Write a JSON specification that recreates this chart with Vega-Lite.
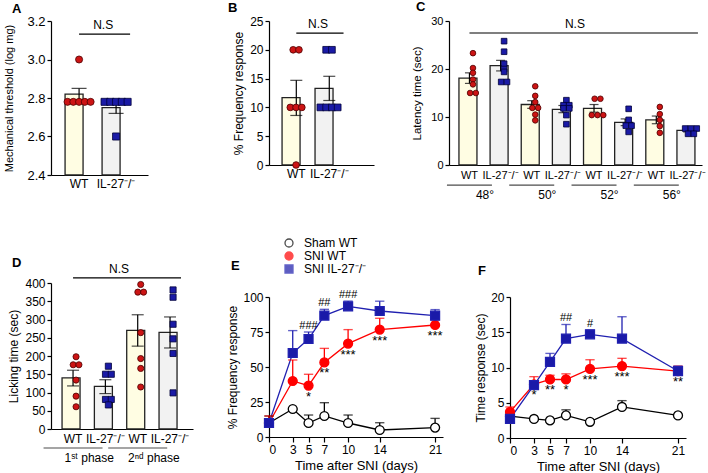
{
  "$schema": "https://vega.github.io/schema/vega-lite/v6.json",
  "padding": {"left": 3, "top": 1, "right": 4, "bottom": 4},
  "config": {
    "font": "Liberation Sans",
    "view": {"stroke": null},
    "axis": {"domainColor": "#000", "domainWidth": 1.2, "tickColor": "#000", "tickWidth": 1.2, "tickSize": 4, "labelColor": "#000", "titleColor": "#000", "labelFont": "Liberation Sans", "titleFont": "Liberation Sans", "titleFontWeight": "normal", "grid": false, "labelPadding": 2, "labelOverlap": false},
    "title": {"anchor": "start", "frame": "group", "fontSize": 13, "fontWeight": "bold", "font": "Liberation Sans", "color": "#000", "offset": 4},
    "text": {"font": "Liberation Sans", "color": "#000"},
    "legend": {"labelFont": "Liberation Sans", "labelFontSize": 12, "labelColor": "#000"}
  },
  "datasets": {
    "aBar": [{"k": "WT", "g": "WT", "m": 2.82, "lo": 2.79, "hi": 2.85}, {"k": "IL", "g": "IL", "m": 2.75, "lo": 2.72, "hi": 2.78}],
    "aPts": [{"k": "WT", "g": "WT", "v": 3.0}, {"k": "WT", "g": "WT", "v": 2.78}, {"k": "WT", "g": "WT", "v": 2.78}, {"k": "WT", "g": "WT", "v": 2.78}, {"k": "WT", "g": "WT", "v": 2.78}, {"k": "WT", "g": "WT", "v": 2.78},
             {"k": "IL", "g": "IL", "v": 2.78}, {"k": "IL", "g": "IL", "v": 2.78}, {"k": "IL", "g": "IL", "v": 2.78}, {"k": "IL", "g": "IL", "v": 2.78}, {"k": "IL", "g": "IL", "v": 2.78}, {"k": "IL", "g": "IL", "v": 2.6}],
    "bBar": [{"k": "WT", "g": "WT", "m": 11.7, "lo": 8.6, "hi": 14.7}, {"k": "IL", "g": "IL", "m": 13.3, "lo": 11.2, "hi": 15.4}],
    "bPts": [{"k": "WT", "g": "WT", "v": 20}, {"k": "WT", "g": "WT", "v": 20}, {"k": "WT", "g": "WT", "v": 10}, {"k": "WT", "g": "WT", "v": 10}, {"k": "WT", "g": "WT", "v": 10}, {"k": "WT", "g": "WT", "v": 0},
             {"k": "IL", "g": "IL", "v": 20}, {"k": "IL", "g": "IL", "v": 20}, {"k": "IL", "g": "IL", "v": 10}, {"k": "IL", "g": "IL", "v": 10}, {"k": "IL", "g": "IL", "v": 10}, {"k": "IL", "g": "IL", "v": 10}],
    "cBar": [
      {"k": "48|WT", "g": "WT", "m": 18.1, "lo": 17.0, "hi": 19.2},
      {"k": "48|IL", "g": "IL", "m": 20.7, "lo": 19.6, "hi": 21.8},
      {"k": "50|WT", "g": "WT", "m": 12.6, "lo": 11.8, "hi": 13.4},
      {"k": "50|IL", "g": "IL", "m": 11.6, "lo": 10.9, "hi": 12.4},
      {"k": "52|WT", "g": "WT", "m": 11.8, "lo": 11.0, "hi": 12.6},
      {"k": "52|IL", "g": "IL", "m": 8.9, "lo": 8.2, "hi": 9.6},
      {"k": "56|WT", "g": "WT", "m": 9.4, "lo": 8.6, "hi": 10.2},
      {"k": "56|IL", "g": "IL", "m": 7.2, "lo": 6.9, "hi": 7.5}
    ],
    "cPts": [
      {"k": "48|WT", "g": "WT", "v": 23.3}, {"k": "48|WT", "g": "WT", "v": 20.2}, {"k": "48|WT", "g": "WT", "v": 19.2}, {"k": "48|WT", "g": "WT", "v": 17.8}, {"k": "48|WT", "g": "WT", "v": 16.8}, {"k": "48|WT", "g": "WT", "v": 15.0}, {"k": "48|WT", "g": "WT", "v": 15.0},
      {"k": "48|IL", "g": "IL", "v": 25.8}, {"k": "48|IL", "g": "IL", "v": 23.6}, {"k": "48|IL", "g": "IL", "v": 21.1}, {"k": "48|IL", "g": "IL", "v": 20.0}, {"k": "48|IL", "g": "IL", "v": 19.4}, {"k": "48|IL", "g": "IL", "v": 17.3}, {"k": "48|IL", "g": "IL", "v": 17.3},
      {"k": "50|WT", "g": "WT", "v": 16.4}, {"k": "50|WT", "g": "WT", "v": 14.4}, {"k": "50|WT", "g": "WT", "v": 13.1}, {"k": "50|WT", "g": "WT", "v": 11.9}, {"k": "50|WT", "g": "WT", "v": 11.9}, {"k": "50|WT", "g": "WT", "v": 10.5}, {"k": "50|WT", "g": "WT", "v": 9.3},
      {"k": "50|IL", "g": "IL", "v": 13.5}, {"k": "50|IL", "g": "IL", "v": 12.45}, {"k": "50|IL", "g": "IL", "v": 12.45}, {"k": "50|IL", "g": "IL", "v": 11.8}, {"k": "50|IL", "g": "IL", "v": 11.8}, {"k": "50|IL", "g": "IL", "v": 10.4}, {"k": "50|IL", "g": "IL", "v": 8.5},
      {"k": "52|WT", "g": "WT", "v": 13.8}, {"k": "52|WT", "g": "WT", "v": 13.8}, {"k": "52|WT", "g": "WT", "v": 10.4}, {"k": "52|WT", "g": "WT", "v": 10.4}, {"k": "52|WT", "g": "WT", "v": 10.4},
      {"k": "52|IL", "g": "IL", "v": 11.7}, {"k": "52|IL", "g": "IL", "v": 9.4}, {"k": "52|IL", "g": "IL", "v": 8.2}, {"k": "52|IL", "g": "IL", "v": 8.2}, {"k": "52|IL", "g": "IL", "v": 6.9},
      {"k": "56|WT", "g": "WT", "v": 12.1}, {"k": "56|WT", "g": "WT", "v": 10.6}, {"k": "56|WT", "g": "WT", "v": 9.4}, {"k": "56|WT", "g": "WT", "v": 8.1}, {"k": "56|WT", "g": "WT", "v": 6.7},
      {"k": "56|IL", "g": "IL", "v": 7.6}, {"k": "56|IL", "g": "IL", "v": 7.6}, {"k": "56|IL", "g": "IL", "v": 7.6}, {"k": "56|IL", "g": "IL", "v": 6.5}, {"k": "56|IL", "g": "IL", "v": 6.5}
    ],
    "cGrp": [{"k": "48|WT", "t": "48°"}, {"k": "50|WT", "t": "50°"}, {"k": "52|WT", "t": "52°"}, {"k": "56|WT", "t": "56°"}],
    "dBar": [
      {"k": "1|WT", "g": "WT", "m": 140, "lo": 118, "hi": 161},
      {"k": "1|IL", "g": "IL", "m": 117, "lo": 97, "hi": 135},
      {"k": "2|WT", "g": "WT", "m": 270, "lo": 227, "hi": 313},
      {"k": "2|IL", "g": "IL", "m": 265, "lo": 222, "hi": 307}
    ],
    "dPts": [
      {"k": "1|WT", "g": "WT", "v": 198}, {"k": "1|WT", "g": "WT", "v": 176}, {"k": "1|WT", "g": "WT", "v": 176}, {"k": "1|WT", "g": "WT", "v": 134}, {"k": "1|WT", "g": "WT", "v": 90}, {"k": "1|WT", "g": "WT", "v": 61},
      {"k": "1|IL", "g": "IL", "v": 172}, {"k": "1|IL", "g": "IL", "v": 150}, {"k": "1|IL", "g": "IL", "v": 150}, {"k": "1|IL", "g": "IL", "v": 81}, {"k": "1|IL", "g": "IL", "v": 81}, {"k": "1|IL", "g": "IL", "v": 66},
      {"k": "2|WT", "g": "WT", "v": 396}, {"k": "2|WT", "g": "WT", "v": 375}, {"k": "2|WT", "g": "WT", "v": 375}, {"k": "2|WT", "g": "WT", "v": 264}, {"k": "2|WT", "g": "WT", "v": 193}, {"k": "2|WT", "g": "WT", "v": 166}, {"k": "2|WT", "g": "WT", "v": 115},
      {"k": "2|IL", "g": "IL", "v": 381}, {"k": "2|IL", "g": "IL", "v": 361}, {"k": "2|IL", "g": "IL", "v": 287}, {"k": "2|IL", "g": "IL", "v": 247}, {"k": "2|IL", "g": "IL", "v": 207}, {"k": "2|IL", "g": "IL", "v": 99}
    ],
    "dGrp": [{"k": "1|WT", "t": "1ˢᵗ phase"}, {"k": "2|WT", "t": "2ⁿᵈ phase"}],
    "eData": [
      {"s": "Sham WT", "day": 0, "m": 10, "hi": 15}, {"s": "Sham WT", "day": 3, "m": 20, "hi": 20}, {"s": "Sham WT", "day": 5, "m": 10, "hi": 15.7}, {"s": "Sham WT", "day": 7, "m": 15, "hi": 24.5}, {"s": "Sham WT", "day": 10, "m": 10, "hi": 15.7}, {"s": "Sham WT", "day": 14, "m": 5, "hi": 10.2}, {"s": "Sham WT", "day": 21, "m": 6.7, "hi": 13.3},
      {"s": "SNI WT", "day": 0, "m": 10, "hi": 15}, {"s": "SNI WT", "day": 3, "m": 40, "hi": 55}, {"s": "SNI WT", "day": 5, "m": 36.7, "hi": 44.8, "ann": "*"}, {"s": "SNI WT", "day": 7, "m": 53.3, "hi": 63.3, "ann": "**"}, {"s": "SNI WT", "day": 10, "m": 66.7, "hi": 76.7, "ann": "***"}, {"s": "SNI WT", "day": 14, "m": 76.7, "hi": 84.8, "ann": "***"}, {"s": "SNI WT", "day": 21, "m": 80, "hi": 83.6, "ann": "***"},
      {"s": "SNI IL-27⁻/⁻", "day": 0, "m": 10, "hi": 13}, {"s": "SNI IL-27⁻/⁻", "day": 3, "m": 60, "hi": 76}, {"s": "SNI IL-27⁻/⁻", "day": 5, "m": 70, "hi": 75, "ann": "###"}, {"s": "SNI IL-27⁻/⁻", "day": 7, "m": 86.7, "hi": 91.2, "ann": "##"}, {"s": "SNI IL-27⁻/⁻", "day": 10, "m": 93.3, "hi": 97.1, "ann": "###"}, {"s": "SNI IL-27⁻/⁻", "day": 14, "m": 90, "hi": 97}, {"s": "SNI IL-27⁻/⁻", "day": 21, "m": 86.7, "hi": 91}
    ],
    "fData": [
      {"s": "Sham WT", "day": 0, "m": 3.1, "hi": 3.1}, {"s": "Sham WT", "day": 3, "m": 2.7, "hi": 2.7}, {"s": "Sham WT", "day": 5, "m": 2.5, "hi": 2.5}, {"s": "Sham WT", "day": 7, "m": 3.2, "hi": 4.0}, {"s": "Sham WT", "day": 10, "m": 2.3, "hi": 2.3}, {"s": "Sham WT", "day": 14, "m": 4.4, "hi": 5.3}, {"s": "Sham WT", "day": 21, "m": 3.2, "hi": 3.2},
      {"s": "SNI WT", "day": 0, "m": 3.7, "hi": 4.4}, {"s": "SNI WT", "day": 3, "m": 7.6, "hi": 8.7, "ann": "*"}, {"s": "SNI WT", "day": 5, "m": 8.3, "hi": 8.9, "ann": "**"}, {"s": "SNI WT", "day": 7, "m": 8.3, "hi": 9.1, "ann": "*"}, {"s": "SNI WT", "day": 10, "m": 9.8, "hi": 11.1, "ann": "***"}, {"s": "SNI WT", "day": 14, "m": 10.2, "hi": 11.3, "ann": "***"}, {"s": "SNI WT", "day": 21, "m": 9.5, "hi": 10.2, "ann": "**"},
      {"s": "SNI IL-27⁻/⁻", "day": 0, "m": 2.7, "hi": 3.2}, {"s": "SNI IL-27⁻/⁻", "day": 3, "m": 7.5, "hi": 8.0}, {"s": "SNI IL-27⁻/⁻", "day": 5, "m": 10.8, "hi": 12.0}, {"s": "SNI IL-27⁻/⁻", "day": 7, "m": 14.1, "hi": 16.1, "ann": "##"}, {"s": "SNI IL-27⁻/⁻", "day": 10, "m": 14.7, "hi": 15.3, "ann": "#"}, {"s": "SNI IL-27⁻/⁻", "day": 14, "m": 14.1, "hi": 17.2}, {"s": "SNI IL-27⁻/⁻", "day": 21, "m": 9.5, "hi": 10.2}
    ]
  },
  "hconcat": [
    {
      "vconcat": [
        {
          "width": 97, "height": 154,
          "title": {"text": "A", "dx": -39, "offset": -1},
          "layer": [
            {"data": {"name": "aBar"}, "mark": {"type": "bar", "stroke": "#222", "strokeWidth": 1.3},
             "encoding": {
               "x": {"field": "k", "type": "nominal", "scale": {"domain": ["WT", "IL"], "paddingInner": 0.243, "paddingOuter": 0.432, "align": 0.44},
                     "axis": {"title": null, "ticks": false, "labelAngle": 0, "labelPadding": 3, "labelFontSize": 12, "labelExpr": "datum.value === 'WT' ? 'WT' : 'IL-27⁻/⁻'"}},
               "y": {"field": "m", "type": "quantitative", "scale": {"domain": [2.4, 3.2], "nice": false, "zero": false},
                     "axis": {"values": [2.4, 2.6, 2.8, 3.0, 3.2], "tickCount": 30, "format": ".1f", "title": "Mechanical threshold (log mg)", "labelFontSize": 13, "titleFontSize": 11, "titlePadding": 12}},
               "y2": {"datum": 2.4},
               "fill": {"condition": {"test": "datum.g === 'WT'", "value": "#fffde3"}, "value": "#f2f2f2"}
             }},
            {"data": {"name": "aBar"}, "mark": {"type": "rule", "color": "#000", "strokeWidth": 1.2},
             "encoding": {"x": {"field": "k", "type": "nominal"}, "y": {"field": "lo", "type": "quantitative"}, "y2": {"field": "hi"}}},
            {"data": {"name": "aBar"}, "mark": {"type": "tick", "color": "#000", "thickness": 1.2, "size": 15},
             "encoding": {"x": {"field": "k", "type": "nominal"}, "y": {"field": "hi", "type": "quantitative"}}},
            {"data": {"name": "aBar"}, "mark": {"type": "tick", "color": "#000", "thickness": 1.2, "size": 15},
             "encoding": {"x": {"field": "k", "type": "nominal"}, "y": {"field": "lo", "type": "quantitative"}}},
            {"data": {"name": "aPts"},
             "transform": [{"joinaggregate": [{"op": "count", "as": "n"}], "groupby": ["k", "v"]}, {"window": [{"op": "row_number", "as": "r"}], "groupby": ["k", "v"]}, {"calculate": "datum.r - (datum.n + 1) / 2", "as": "off"}],
             "mark": {"type": "point", "filled": true, "opacity": 1, "size": 50, "strokeWidth": 0.8},
             "encoding": {
               "x": {"field": "k", "type": "nominal"},
               "xOffset": {"field": "off", "type": "quantitative", "scale": {"domain": [-2.43, 2.43]}},
               "y": {"field": "v", "type": "quantitative"},
               "shape": {"condition": {"test": "datum.g === 'WT'", "value": "circle"}, "value": "square"},
               "fill": {"condition": {"test": "datum.g === 'WT'", "value": "#cc1414"}, "value": "#1a1aa6"},
               "stroke": {"condition": {"test": "datum.g === 'WT'", "value": "#4d0000"}, "value": "#00003a"}
             }},
            {"data": {"values": [{}]}, "mark": {"type": "rule", "color": "#000", "strokeWidth": 1.2},
             "encoding": {"x": {"datum": "WT", "type": "nominal"}, "x2": {"datum": "IL", "bandPosition": 1}, "y": {"datum": 3.132, "type": "quantitative"}}},
            {"data": {"values": [{}]}, "mark": {"type": "text", "baseline": "bottom", "dy": -2, "fontSize": 12},
             "encoding": {"x": {"datum": "WT", "type": "nominal", "bandPosition": 1.36}, "y": {"datum": 3.132, "type": "quantitative"}, "text": {"value": "N.S"}}}
          ]
        },
        {
          "width": 142, "height": 146,
          "title": {"text": "D", "dx": -39, "offset": -7},
          "layer": [
            {"data": {"name": "dBar"}, "mark": {"type": "bar", "stroke": "#222", "strokeWidth": 1.3},
             "encoding": {
               "x": {"field": "k", "type": "nominal", "scale": {"domain": ["1|WT", "1|IL", "2|WT", "2|IL"], "paddingInner": 0.32, "paddingOuter": 0.356, "align": 0.48},
                     "axis": {"title": null, "ticks": false, "labelAngle": 0, "labelPadding": 4, "labelFontSize": 12, "labelExpr": "indexof(datum.value, 'WT') >= 0 ? 'WT' : 'IL-27⁻/⁻'"}},
               "y": {"field": "m", "type": "quantitative", "scale": {"domain": [0, 400], "nice": false},
                     "axis": {"values": [0, 50, 100, 150, 200, 250, 300, 350, 400], "tickCount": 30, "format": "d", "title": "Licking time (sec)", "labelFontSize": 12, "titleFontSize": 12, "titlePadding": 4}},
               "y2": {"datum": 0},
               "fill": {"condition": {"test": "datum.g === 'WT'", "value": "#fffde3"}, "value": "#f2f2f2"}
             }},
            {"data": {"name": "dBar"}, "mark": {"type": "rule", "color": "#000", "strokeWidth": 1.2},
             "encoding": {"x": {"field": "k", "type": "nominal"}, "y": {"field": "lo", "type": "quantitative"}, "y2": {"field": "hi"}}},
            {"data": {"name": "dBar"}, "mark": {"type": "tick", "color": "#000", "thickness": 1.2, "size": 12},
             "encoding": {"x": {"field": "k", "type": "nominal"}, "y": {"field": "hi", "type": "quantitative"}}},
            {"data": {"name": "dBar"}, "mark": {"type": "tick", "color": "#000", "thickness": 1.2, "size": 12},
             "encoding": {"x": {"field": "k", "type": "nominal"}, "y": {"field": "lo", "type": "quantitative"}}},
            {"data": {"name": "dPts"},
             "transform": [{"joinaggregate": [{"op": "count", "as": "n"}], "groupby": ["k", "v"]}, {"window": [{"op": "row_number", "as": "r"}], "groupby": ["k", "v"]}, {"calculate": "datum.r - (datum.n + 1) / 2", "as": "off"}],
             "mark": {"type": "point", "filled": true, "opacity": 1, "size": 38, "strokeWidth": 0.8},
             "encoding": {
               "x": {"field": "k", "type": "nominal"},
               "xOffset": {"field": "off", "type": "quantitative", "scale": {"domain": [-1.57, 1.57]}},
               "y": {"field": "v", "type": "quantitative"},
               "shape": {"condition": {"test": "datum.g === 'WT'", "value": "circle"}, "value": "square"},
               "fill": {"condition": {"test": "datum.g === 'WT'", "value": "#cc1414"}, "value": "#1a1aa6"},
               "stroke": {"condition": {"test": "datum.g === 'WT'", "value": "#4d0000"}, "value": "#00003a"}
             }},
            {"data": {"values": [{}]}, "mark": {"type": "rule", "color": "#000", "strokeWidth": 1.2},
             "encoding": {"x": {"datum": "1|WT", "type": "nominal"}, "x2": {"datum": "2|IL", "bandPosition": 1}, "y": {"datum": 414, "type": "quantitative"}}},
            {"data": {"values": [{}]}, "mark": {"type": "text", "baseline": "bottom", "dy": -2, "fontSize": 12},
             "encoding": {"x": {"datum": "1|IL", "type": "nominal", "bandPosition": 1.12}, "y": {"datum": 414, "type": "quantitative"}, "text": {"value": "N.S"}}},
            {"data": {"name": "dGrp"}, "mark": {"type": "tick", "color": "#000", "thickness": 1.2, "size": 59},
             "encoding": {"x": {"field": "k", "type": "nominal", "bandPosition": 1.235}, "y": {"datum": -52, "type": "quantitative"}}},
            {"data": {"name": "dGrp"}, "mark": {"type": "text", "baseline": "middle", "fontSize": 12},
             "encoding": {"x": {"field": "k", "type": "nominal", "bandPosition": 1.235}, "y": {"datum": -79, "type": "quantitative"}, "text": {"field": "t"}}}
          ]
        }
      ],
      "spacing": 67
    },
    {
      "vconcat": [
        {
          "hconcat": [
            {
              "width": 105, "height": 144,
              "title": {"text": "B", "dx": -41, "offset": 0.5},
              "layer": [
                {"data": {"name": "bBar"}, "mark": {"type": "bar", "stroke": "#222", "strokeWidth": 1.3},
                 "encoding": {
                   "x": {"field": "k", "type": "nominal", "scale": {"domain": ["WT", "IL"], "paddingInner": 0.136, "paddingOuter": 0.66, "align": 0.3},
                         "axis": {"title": null, "ticks": false, "labelAngle": 0, "labelPadding": 3, "labelFontSize": 12, "labelExpr": "datum.value === 'WT' ? 'WT' : 'IL-27⁻/⁻'"}},
                   "y": {"field": "m", "type": "quantitative", "scale": {"domain": [0, 25], "nice": false},
                         "axis": {"values": [0, 5, 10, 15, 20, 25], "tickCount": 30, "format": "d", "title": "% Frequency response", "labelFontSize": 12, "titleFontSize": 12, "titlePadding": 4}},
                   "y2": {"datum": 0},
                   "fill": {"condition": {"test": "datum.g === 'WT'", "value": "#fffde3"}, "value": "#f2f2f2"}
                 }},
                {"data": {"name": "bBar"}, "mark": {"type": "rule", "color": "#000", "strokeWidth": 1.2},
                 "encoding": {"x": {"field": "k", "type": "nominal"}, "y": {"field": "lo", "type": "quantitative"}, "y2": {"field": "hi"}}},
                {"data": {"name": "bBar"}, "mark": {"type": "tick", "color": "#000", "thickness": 1.2, "size": 12},
                 "encoding": {"x": {"field": "k", "type": "nominal"}, "y": {"field": "hi", "type": "quantitative"}}},
                {"data": {"name": "bBar"}, "mark": {"type": "tick", "color": "#000", "thickness": 1.2, "size": 12},
                 "encoding": {"x": {"field": "k", "type": "nominal"}, "y": {"field": "lo", "type": "quantitative"}}},
                {"data": {"name": "bPts"},
                 "transform": [{"joinaggregate": [{"op": "count", "as": "n"}], "groupby": ["k", "v"]}, {"window": [{"op": "row_number", "as": "r"}], "groupby": ["k", "v"]}, {"calculate": "datum.r - (datum.n + 1) / 2", "as": "off"}],
                 "mark": {"type": "point", "filled": true, "opacity": 1, "size": 45, "strokeWidth": 0.8},
                 "encoding": {
                   "x": {"field": "k", "type": "nominal"},
                   "xOffset": {"field": "off", "type": "quantitative", "scale": {"domain": [-2.19, 2.19]}},
                   "y": {"field": "v", "type": "quantitative"},
                   "shape": {"condition": {"test": "datum.g === 'WT'", "value": "circle"}, "value": "square"},
                   "fill": {"condition": {"test": "datum.g === 'WT'", "value": "#cc1414"}, "value": "#1a1aa6"},
                   "stroke": {"condition": {"test": "datum.g === 'WT'", "value": "#4d0000"}, "value": "#00003a"}
                 }},
                {"data": {"values": [{}]}, "mark": {"type": "rule", "color": "#000", "strokeWidth": 1.2},
                 "encoding": {"x": {"datum": "WT", "type": "nominal"}, "x2": {"datum": "IL", "bandPosition": 1}, "y": {"datum": 22.9, "type": "quantitative"}}},
                {"data": {"values": [{}]}, "mark": {"type": "text", "baseline": "bottom", "dy": -2, "fontSize": 12},
                 "encoding": {"x": {"datum": "WT", "type": "nominal", "bandPosition": 1.26}, "y": {"datum": 22.9, "type": "quantitative"}, "text": {"value": "N.S"}}}
              ]
            },
            {
              "width": 253, "height": 144,
              "title": {"text": "C", "dx": -33, "offset": 1},
              "layer": [
                {"data": {"name": "cBar"}, "mark": {"type": "bar", "stroke": "#222", "strokeWidth": 1.3},
                 "encoding": {
                   "x": {"field": "k", "type": "nominal", "scale": {"domain": ["48|WT", "48|IL", "50|WT", "50|IL", "52|WT", "52|IL", "56|WT", "56|IL"], "paddingInner": 0.326, "paddingOuter": 0.225, "align": 0.71},
                         "axis": {"title": null, "ticks": false, "labelAngle": 0, "labelPadding": 4, "labelFontSize": 11, "labelExpr": "indexof(datum.value, 'WT') >= 0 ? 'WT' : 'IL-27⁻/⁻'"}},
                   "y": {"field": "m", "type": "quantitative", "scale": {"domain": [0, 30], "nice": false},
                         "axis": {"values": [0, 10, 20, 30], "tickCount": 30, "format": "d", "title": "Latency time (sec)", "labelFontSize": 11, "titleFontSize": 11.5, "titlePadding": 8}},
                   "y2": {"datum": 0},
                   "fill": {"condition": {"test": "datum.g === 'WT'", "value": "#fffde3"}, "value": "#f2f2f2"}
                 }},
                {"data": {"name": "cBar"}, "mark": {"type": "rule", "color": "#000", "strokeWidth": 1.2},
                 "encoding": {"x": {"field": "k", "type": "nominal"}, "y": {"field": "lo", "type": "quantitative"}, "y2": {"field": "hi"}}},
                {"data": {"name": "cBar"}, "mark": {"type": "tick", "color": "#000", "thickness": 1.2, "size": 9},
                 "encoding": {"x": {"field": "k", "type": "nominal"}, "y": {"field": "hi", "type": "quantitative"}}},
                {"data": {"name": "cBar"}, "mark": {"type": "tick", "color": "#000", "thickness": 1.2, "size": 9},
                 "encoding": {"x": {"field": "k", "type": "nominal"}, "y": {"field": "lo", "type": "quantitative"}}},
                {"data": {"name": "cPts"},
                 "transform": [{"joinaggregate": [{"op": "count", "as": "n"}], "groupby": ["k", "v"]}, {"window": [{"op": "row_number", "as": "r"}], "groupby": ["k", "v"]}, {"calculate": "datum.r - (datum.n + 1) / 2", "as": "off"}],
                 "mark": {"type": "point", "filled": true, "opacity": 1, "size": 32, "strokeWidth": 0.8},
                 "encoding": {
                   "x": {"field": "k", "type": "nominal"},
                   "xOffset": {"field": "off", "type": "quantitative", "scale": {"domain": [-1.5, 1.5]}},
                   "y": {"field": "v", "type": "quantitative"},
                   "shape": {"condition": {"test": "datum.g === 'WT'", "value": "circle"}, "value": "square"},
                   "fill": {"condition": {"test": "datum.g === 'WT'", "value": "#cc1414"}, "value": "#1a1aa6"},
                   "stroke": {"condition": {"test": "datum.g === 'WT'", "value": "#4d0000"}, "value": "#00003a"}
                 }},
                {"data": {"values": [{}]}, "mark": {"type": "rule", "color": "#000", "strokeWidth": 1.2},
                 "encoding": {"x": {"datum": "48|WT", "type": "nominal"}, "x2": {"datum": "56|IL", "bandPosition": 1}, "y": {"datum": 27.5, "type": "quantitative"}}},
                {"data": {"values": [{}]}, "mark": {"type": "text", "baseline": "bottom", "dy": -2, "fontSize": 12},
                 "encoding": {"x": {"datum": "52|WT", "type": "nominal", "bandPosition": -0.41}, "y": {"datum": 27.5, "type": "quantitative"}, "text": {"value": "N.S"}}},
                {"data": {"name": "cGrp"}, "mark": {"type": "tick", "color": "#000", "thickness": 1.2, "size": 45},
                 "encoding": {"x": {"field": "k", "type": "nominal", "bandPosition": 1.241}, "y": {"datum": -4.2, "type": "quantitative"}}},
                {"data": {"name": "cGrp"}, "mark": {"type": "text", "baseline": "middle", "fontSize": 12},
                 "encoding": {"x": {"field": "k", "type": "nominal", "bandPosition": 1.241}, "y": {"datum": -6.3, "type": "quantitative"}, "text": {"field": "t"}}}
              ]
            }
          ],
          "spacing": 37
        },
        {
          "hconcat": [
            {
              "width": 174, "height": 140,
              "title": {"text": "E", "dx": -38, "dy": 36, "offset": 0},
              "data": {"name": "eData"},
              "layer": [
                {"mark": {"type": "line", "strokeWidth": 1.3},
                 "encoding": {
                   "x": {"field": "day", "type": "quantitative", "scale": {"domain": [0, 22], "nice": false},
                         "axis": {"values": [0, 3, 5, 7, 10, 14, 21], "tickCount": 30, "format": "d", "title": "Time after SNI (days)", "tickSize": 5, "labelFontSize": 12, "titleFontSize": 13, "titlePadding": 4}},
                   "y": {"field": "m", "type": "quantitative", "scale": {"domain": [0, 100], "nice": false},
                         "axis": {"values": [0, 25, 50, 75, 100], "tickCount": 30, "format": "d", "title": "% Frequency response", "labelFontSize": 12, "titleFontSize": 12, "titlePadding": 3}},
                   "stroke": {"field": "s", "type": "nominal", "scale": {"domain": ["Sham WT", "SNI WT", "SNI IL-27⁻/⁻"], "range": ["#000000", "#ff0000", "#2020b0"]}}
                 }},
                {"mark": {"type": "rule", "strokeWidth": 1.3},
                 "encoding": {"x": {"field": "day", "type": "quantitative"}, "y": {"field": "m", "type": "quantitative"}, "y2": {"field": "hi"},
                   "stroke": {"field": "s", "type": "nominal"}}},
                {"mark": {"type": "tick", "orient": "horizontal", "size": 8, "thickness": 0.05, "filled": false, "strokeWidth": 1.3},
                 "encoding": {"x": {"field": "day", "type": "quantitative"}, "y": {"field": "hi", "type": "quantitative"},
                   "stroke": {"field": "s", "type": "nominal"}}},
                {"mark": {"type": "point", "filled": true, "opacity": 1, "size": 80, "strokeWidth": 1.3},
                 "encoding": {
                   "x": {"field": "day", "type": "quantitative"},
                   "y": {"field": "m", "type": "quantitative"},
                   "shape": {"field": "s", "type": "nominal", "scale": {"domain": ["Sham WT", "SNI WT", "SNI IL-27⁻/⁻"], "range": ["circle", "circle", "square"]}},
                   "stroke": {"field": "s", "type": "nominal"},
                   "fill": {"field": "s", "type": "nominal", "scale": {"domain": ["Sham WT", "SNI WT", "SNI IL-27⁻/⁻"], "range": ["#ffffff", "#ff0000", "#1a1aa8"]},
                            "legend": {"title": null, "orient": "none", "legendX": 14, "legendY": -60, "symbolSize": 64, "symbolStrokeWidth": 1.3, "symbolOpacity": 1, "rowPadding": -4, "labelOffset": 9, "labelFontSize": 12}}
                 }},
                {"transform": [{"filter": "datum.s === 'SNI IL-27⁻/⁻' && datum.ann"}],
                 "mark": {"type": "text", "baseline": "bottom", "dy": -1, "fontSize": 11},
                 "encoding": {"x": {"field": "day", "type": "quantitative"}, "y": {"field": "hi", "type": "quantitative"}, "text": {"field": "ann"}}},
                {"transform": [{"filter": "datum.s === 'SNI WT' && datum.ann"}],
                 "mark": {"type": "text", "baseline": "top", "dy": 5, "fontSize": 13},
                 "encoding": {"x": {"field": "day", "type": "quantitative"}, "y": {"field": "m", "type": "quantitative"}, "text": {"field": "ann"}}}
              ]
            },
            {
              "width": 176, "height": 141,
              "title": {"text": "F", "dx": -32, "offset": 13},
              "data": {"name": "fData"},
              "layer": [
                {"mark": {"type": "line", "strokeWidth": 1.3},
                 "encoding": {
                   "x": {"field": "day", "type": "quantitative", "scale": {"domain": [0, 22], "nice": false},
                         "axis": {"values": [0, 3, 5, 7, 10, 14, 21], "tickCount": 30, "format": "d", "title": "Time after SNI (days)", "tickSize": 5, "labelFontSize": 12, "titleFontSize": 13, "titlePadding": 4}},
                   "y": {"field": "m", "type": "quantitative", "scale": {"domain": [0, 20], "nice": false},
                         "axis": {"values": [0, 5, 10, 15, 20], "tickCount": 30, "format": "d", "title": "Time response (sec)", "labelFontSize": 12, "titleFontSize": 12, "titlePadding": 3}},
                   "stroke": {"field": "s", "type": "nominal", "scale": {"domain": ["Sham WT", "SNI WT", "SNI IL-27⁻/⁻"], "range": ["#000000", "#ff0000", "#2020b0"]}, "legend": null}
                 }},
                {"mark": {"type": "rule", "strokeWidth": 1.3},
                 "encoding": {"x": {"field": "day", "type": "quantitative"}, "y": {"field": "m", "type": "quantitative"}, "y2": {"field": "hi"},
                   "stroke": {"field": "s", "type": "nominal", "legend": null}}},
                {"mark": {"type": "tick", "orient": "horizontal", "size": 8, "thickness": 0.05, "filled": false, "strokeWidth": 1.3},
                 "encoding": {"x": {"field": "day", "type": "quantitative"}, "y": {"field": "hi", "type": "quantitative"},
                   "stroke": {"field": "s", "type": "nominal", "legend": null}}},
                {"mark": {"type": "point", "filled": true, "opacity": 1, "size": 80, "strokeWidth": 1.3},
                 "encoding": {
                   "x": {"field": "day", "type": "quantitative"},
                   "y": {"field": "m", "type": "quantitative"},
                   "shape": {"field": "s", "type": "nominal", "scale": {"domain": ["Sham WT", "SNI WT", "SNI IL-27⁻/⁻"], "range": ["circle", "circle", "square"]}, "legend": null},
                   "stroke": {"field": "s", "type": "nominal", "legend": null},
                   "fill": {"field": "s", "type": "nominal", "scale": {"domain": ["Sham WT", "SNI WT", "SNI IL-27⁻/⁻"], "range": ["#ffffff", "#ff0000", "#1a1aa8"]}, "legend": null}
                 }},
                {"transform": [{"filter": "datum.s === 'SNI IL-27⁻/⁻' && datum.ann"}],
                 "mark": {"type": "text", "baseline": "bottom", "dy": -1, "fontSize": 11},
                 "encoding": {"x": {"field": "day", "type": "quantitative"}, "y": {"field": "hi", "type": "quantitative"}, "text": {"field": "ann"}}},
                {"transform": [{"filter": "datum.s === 'SNI WT' && datum.ann"}],
                 "mark": {"type": "text", "baseline": "top", "dy": 5, "fontSize": 13},
                 "encoding": {"x": {"field": "day", "type": "quantitative"}, "y": {"field": "m", "type": "quantitative"}, "text": {"field": "ann"}}}
              ]
            }
          ],
          "spacing": 31,
          "resolve": {"scale": {"color": "independent", "fill": "independent", "stroke": "independent", "shape": "independent"}}
        }
      ],
      "spacing": 35
    }
  ],
  "spacing": 33
}
